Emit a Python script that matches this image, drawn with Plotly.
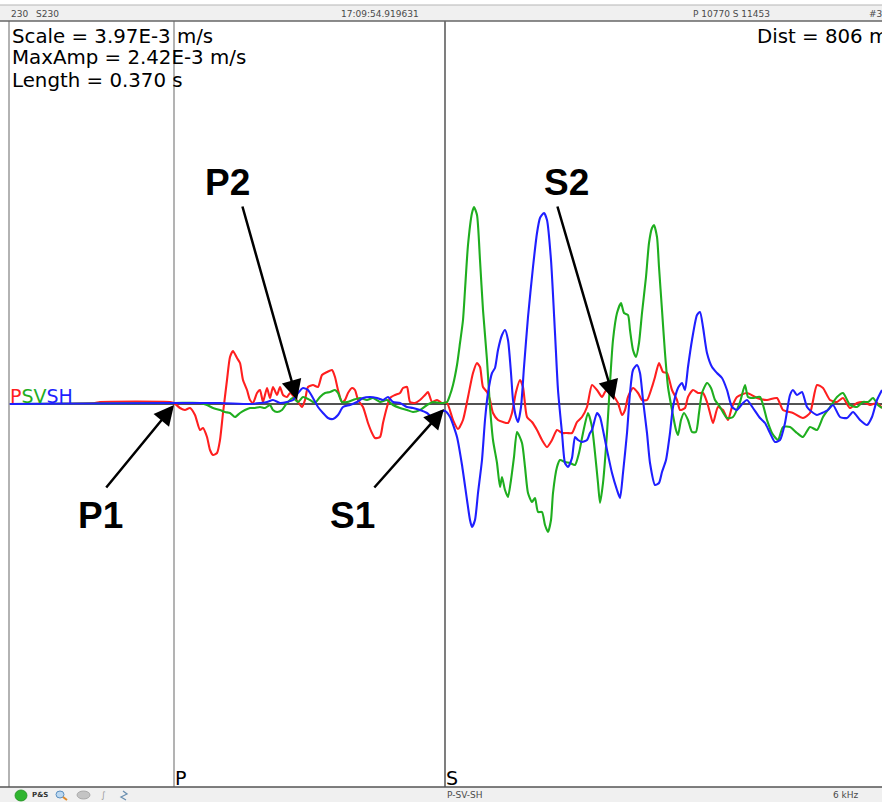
import plotly.graph_objects as go

# ---------------- data (sample index, amplitude in counts) ----------------
p_n = [0, 31, 86, 91, 161, 165, 171, 176, 181, 186, 191, 194, 198, 201, 204, 208, 211, 214, 218, 221, 224, 228, 231, 234, 238, 241, 244, 248, 251, 254, 258, 261, 264, 268, 271, 274, 278, 281, 286, 289, 293, 296, 299, 304, 309, 313, 318, 323, 326, 329, 333, 336, 339, 343, 346, 349, 354, 359, 363, 366, 371, 374, 378, 381, 386, 391, 394, 398, 401, 406, 411, 416, 419, 423, 428, 433, 438, 444, 449, 454, 459, 464, 468, 471, 474, 478, 481, 484, 489, 494, 499, 503, 507, 511, 514, 518, 523, 528, 533, 538, 543, 548, 553, 558, 563, 568, 573, 578, 583, 588, 593, 596, 599, 604, 609, 613, 616, 619, 624, 629, 633, 638, 643, 646, 650, 654, 658, 663, 668, 671, 676, 679, 684, 689, 694, 698, 701, 704, 709, 714, 719, 723, 728, 738, 748, 758, 768, 774, 784, 794, 801, 808, 814, 821, 828, 834, 841, 848, 854, 861, 868, 873]
p_a = [0, 0, 1, 2, 2, 1, -4, -6, -4, -11, -26, -24, -33, -46, -51, -49, -36, -9, 24, 47, 53, 46, 41, 24, 14, 4, 1, 11, 14, 2, 16, 6, 17, 9, 17, 9, 7, 11, 6, 2, -3, 4, 17, 19, 17, 29, 32, 34, 27, 14, 2, 4, 11, 16, 14, 4, -3, -19, -29, -34, -33, -19, -3, 6, 9, 11, 16, 17, 2, 1, 4, 9, 12, 2, 4, 1, 1, -16, -25, -16, 7, 31, 41, 37, 17, 12, 4, -9, -16, -18, -19, -9, 12, 24, 17, -13, -18, -26, -36, -43, -36, -26, -29, -29, -29, -18, -13, -3, 19, 14, 7, 12, 16, 9, 1, -11, -6, 7, 16, 11, 4, 4, 17, 27, 41, 32, 31, 14, 4, -6, -4, 7, 14, 11, 11, 2, -9, -19, -3, -6, -16, -3, 7, 11, 6, 4, 6, -6, -9, -14, -9, 19, 16, 4, 2, 6, -4, 1, 2, -1, 1, -4]

sv_n = [0, 165, 191, 198, 204, 211, 216, 221, 226, 231, 236, 241, 246, 251, 256, 261, 264, 268, 273, 278, 284, 289, 294, 301, 306, 311, 316, 321, 326, 329, 333, 338, 344, 351, 358, 364, 371, 378, 384, 391, 398, 404, 411, 418, 424, 431, 438, 441, 444, 448, 451, 454, 456, 459, 463, 465, 468, 471, 474, 478, 481, 484, 488, 491, 493, 496, 499, 502, 505, 508, 513, 516, 519, 523, 526, 529, 533, 536, 539, 542, 544, 548, 551, 556, 561, 566, 570, 574, 579, 583, 586, 589, 591, 594, 598, 601, 604, 608, 612, 615, 619, 621, 624, 627, 630, 633, 637, 640, 643, 645, 648, 650, 653, 656, 659, 663, 667, 669, 672, 675, 679, 683, 687, 690, 693, 698, 702, 706, 711, 718, 724, 731, 736, 739, 744, 751, 758, 763, 769, 774, 781, 788, 794, 801, 808, 814, 821, 828, 834, 841, 848, 854, 859, 864, 869, 873]
sv_a = [0, 1, 1, -1, -4, -6, -8, -9, -13, -9, -6, -4, -4, -3, -4, -1, -6, -8, -6, 1, 6, 2, 7, 4, 1, 7, 11, 12, 14, 11, 2, 2, 4, 6, 4, 6, 2, 4, -1, -4, -6, -8, -6, -1, 2, 1, 2, 9, 19, 39, 61, 84, 114, 159, 191, 197, 189, 144, 94, 44, -3, -36, -59, -83, -73, -86, -93, -76, -53, -28, -39, -63, -89, -98, -94, -108, -108, -121, -128, -116, -89, -63, -56, -58, -59, -61, -49, -29, -9, -23, -49, -79, -99, -79, -29, 21, 64, 91, 101, 91, 89, 74, 54, 47, 61, 91, 127, 161, 176, 179, 167, 137, 94, 51, 17, -6, -26, -31, -16, -9, -16, -28, -28, -9, 11, 21, 16, 4, -3, -14, -13, 2, 19, 7, 6, 7, -16, -29, -36, -23, -23, -29, -33, -23, -26, -13, -3, 7, 11, -1, -3, 2, 2, 6, -1, -4]

sh_n = [0, 165, 211, 241, 251, 258, 264, 271, 278, 284, 289, 294, 299, 304, 309, 314, 319, 324, 329, 334, 341, 348, 354, 361, 368, 374, 379, 384, 391, 398, 404, 411, 418, 424, 431, 436, 441, 448, 453, 458, 461, 463, 466, 469, 473, 476, 479, 483, 486, 489, 493, 496, 499, 502, 504, 507, 509, 512, 515, 519, 524, 528, 531, 535, 538, 542, 546, 549, 553, 556, 559, 563, 566, 569, 573, 578, 581, 583, 588, 591, 594, 598, 603, 608, 611, 614, 618, 621, 624, 628, 631, 634, 638, 641, 646, 650, 653, 657, 661, 664, 669, 673, 676, 679, 683, 688, 691, 694, 698, 703, 708, 713, 718, 723, 728, 734, 738, 744, 751, 756, 761, 766, 771, 776, 781, 784, 788, 793, 798, 803, 808, 813, 819, 824, 831, 838, 844, 851, 858, 863, 868, 873]
sh_a = [0, 1, 1, 0, 1, 2, 4, 1, 2, 4, 11, 16, 14, 6, -3, -9, -14, -15, -11, -3, -1, 2, 6, 7, 6, 4, 7, 2, 1, -3, -4, -6, -9, -14, -8, -7, -13, -33, -61, -96, -116, -123, -116, -89, -56, -16, 11, 31, 36, 54, 69, 74, 64, 31, 4, -13, -18, -3, 37, 87, 137, 171, 186, 191, 184, 144, 71, 14, -29, -59, -63, -54, -33, -36, -38, -36, -29, -26, -9, -13, -26, -46, -69, -86, -94, -69, -29, 11, 34, 39, 31, 4, -29, -59, -81, -79, -68, -56, -29, -3, 16, 21, 14, 37, 64, 89, 92, 77, 51, 37, 31, 26, 14, -3, -6, 1, 4, -4, -14, -19, -29, -38, -36, -19, 9, 14, 9, 12, -3, -8, -11, -9, -6, -1, -13, -14, -8, -16, -21, -13, 4, 14]

series = [("P", p_n, p_a, "#ff1f1f"),
          ("SV", sv_n, sv_a, "#1fae1f"),
          ("SH", sh_n, sh_a, "#1f1fff")]

p_pick = 165      # P marker sample
s_pick = 436      # S marker sample
n_max = 873
a_lim = 383

picks = [("P1", 165, -1, -69, 84), ("P2", 288, 4, -55, -195),
         ("S1", 435, -5, -71, 80), ("S2", 605, 4, -57, -195)]

# ---------------- layout helpers ----------------
W, H = 882, 802
ML, MT, MB = 9, 21, 15
PW, PH = W - ML, H - MT - MB


def px(x):
    return (x - ML) / PW


def py(y):
    return (H - MB - y) / PH


fig = go.Figure()
for name, n, a, col in series:
    fig.add_trace(go.Scatter(x=n, y=a, mode="lines", name=name,
                             line=dict(color=col, width=2.1, shape="spline", smoothing=0.6),
                             hoverinfo="skip"))

shapes = []
# baseline
shapes.append(dict(type="line", xref="x", yref="y", x0=0, x1=n_max, y0=0, y1=0,
                   line=dict(color="#1a1a1a", width=1.5), layer="below"))
# left border and pick lines
shapes.append(dict(type="line", xref="paper", yref="paper", x0=0, x1=0, y0=0, y1=1,
                   line=dict(color="#9a9a9a", width=1.5)))
shapes.append(dict(type="line", xref="x", yref="paper", x0=p_pick, x1=p_pick, y0=0, y1=1,
                   line=dict(color="#8a8a8a", width=1.3), layer="below"))
shapes.append(dict(type="line", xref="x", yref="paper", x0=s_pick, x1=s_pick, y0=0, y1=1,
                   line=dict(color="#3a3a3a", width=1.3), layer="below"))
# top bar
shapes.append(dict(type="rect", xref="paper", yref="paper", x0=px(0), x1=px(W),
                   y0=py(21), y1=py(5), fillcolor="#f0f0f0", line=dict(width=0)))
shapes.append(dict(type="line", xref="paper", yref="paper", x0=px(0), x1=px(W),
                   y0=py(5), y1=py(5), line=dict(color="#b5b5b5", width=1)))
shapes.append(dict(type="line", xref="paper", yref="paper", x0=px(0), x1=px(W),
                   y0=py(21), y1=py(21), line=dict(color="#666666", width=1.6)))
# bottom bar
shapes.append(dict(type="rect", xref="paper", yref="paper", x0=px(0), x1=px(W),
                   y0=py(H), y1=py(787), fillcolor="#f0f0f0", line=dict(width=0)))
shapes.append(dict(type="line", xref="paper", yref="paper", x0=px(0), x1=px(W),
                   y0=py(787), y1=py(787), line=dict(color="#555555", width=1.6)))
# bottom bar icons
shapes.append(dict(type="circle", xref="paper", yref="paper", x0=px(15), x1=px(27),
                   y0=py(801), y1=py(790), fillcolor="#2fb52f", line=dict(color="#1f8f1f", width=0.8)))
shapes.append(dict(type="circle", xref="paper", yref="paper", x0=px(56), x1=px(64),
                   y0=py(798), y1=py(791), fillcolor="#bcd8f0", line=dict(color="#5b8fc0", width=1)))
shapes.append(dict(type="line", xref="paper", yref="paper", x0=px(63), x1=px(67),
                   y0=py(797), y1=py(800), line=dict(color="#e08a2a", width=2)))
shapes.append(dict(type="circle", xref="paper", yref="paper", x0=px(77), x1=px(90),
                   y0=py(799), y1=py(791), fillcolor="#c4c4c4", line=dict(color="#a0a0a0", width=0.8)))
shapes.append(dict(type="path", xref="paper", yref="paper",
                   path="M %f,%f L %f,%f L %f,%f L %f,%f" % (px(123), py(791), px(127), py(794),
                                                          px(121), py(797), px(126), py(800)),
                   line=dict(color="#6a8fb0", width=1.3)))

ann = []
ui = "DejaVu Sans"
# top bar texts
for txt, x in [("230", 9), ("S230", 34)]:
    ann.append(dict(text=txt, x=px(x), y=py(14), xanchor="left"))
ann.append(dict(text="17:09:54.919631", x=px(380), y=py(14), xanchor="center"))
ann.append(dict(text="P 10770 S 11453", x=px(731), y=py(14), xanchor="center"))
ann.append(dict(text="#3", x=px(867), y=py(14), xanchor="left"))
for a in ann:
    a.update(xref="paper", yref="paper", yanchor="middle", showarrow=False,
             font=dict(family=ui, size=9, color="#4a4a4a"))

# bottom bar texts
bottom = [("<b>P&amp;S</b>", 30, 7, "#333333"), ("∫", 99, 9, "#999999"),
          ("P-SV-SH", 445, 9, "#4a4a4a"), ("6 kHz", 831, 9, "#4a4a4a")]
for txt, x, sz, c in bottom:
    ann.append(dict(text=txt, x=px(x), y=py(795), xref="paper", yref="paper",
                    xanchor="left", yanchor="middle", showarrow=False,
                    font=dict(family=ui, size=sz, color=c)))

# info texts
info = [("Scale = 3.97E-3 m/s", 10, 36), ("MaxAmp = 2.42E-3 m/s", 10, 58),
        ("Length = 0.370 s", 10, 80), ("Dist = 806 m", 755, 36)]
for txt, x, y in info:
    ann.append(dict(text=txt, x=px(x), y=py(y), xref="paper", yref="paper",
                    xanchor="left", yanchor="middle", showarrow=False,
                    font=dict(family=ui, size=19.8, color="#000000")))

# component legend
legend_txt = "".join("<span style='color:%s'>%s</span>" % (c, nm) for nm, _, _, c in series)
ann.append(dict(text=legend_txt, x=px(8), y=py(396), xref="paper", yref="paper",
                xanchor="left", yanchor="middle", showarrow=False,
                font=dict(family=ui, size=19)))

# pick labels at bottom
for txt, n in [("P", p_pick), ("S", s_pick)]:
    ann.append(dict(text=txt, x=n, y=py(778), xref="x", yref="paper",
                    xanchor="left", yanchor="middle", showarrow=False, xshift=-1,
                    font=dict(family=ui, size=19, color="#000000")))

# phase arrows and labels
label_pos = {"P1": (100, 515), "P2": (227, 183), "S1": (352, 515), "S2": (566, 183)}
for lab, n, a, dx, dy in picks:
    ann.append(dict(text="", x=n, y=a, xref="x", yref="y", ax=dx, ay=dy,
                    showarrow=True, arrowhead=2, arrowsize=1.6, arrowwidth=2.5,
                    arrowcolor="#000000"))
    lx, ly = label_pos[lab]
    ann.append(dict(text="<b>%s</b>" % lab, x=px(lx), y=py(ly), xref="paper", yref="paper",
                    xanchor="center", yanchor="middle", showarrow=False,
                    font=dict(family="Liberation Sans", size=37, color="#000000")))

fig.update_layout(
    width=W, height=H,
    margin=dict(l=ML, r=0, t=MT, b=MB, pad=0),
    paper_bgcolor="white", plot_bgcolor="white",
    showlegend=False,
    xaxis=dict(range=[0, n_max], visible=False, fixedrange=True),
    yaxis=dict(range=[-a_lim, a_lim], visible=False, fixedrange=True),
    shapes=shapes, annotations=ann,
)

fig.write_html("out.html", config={"displayModeBar": False},
               post_script="document.body.style.margin='0';document.body.style.overflow='hidden';")
